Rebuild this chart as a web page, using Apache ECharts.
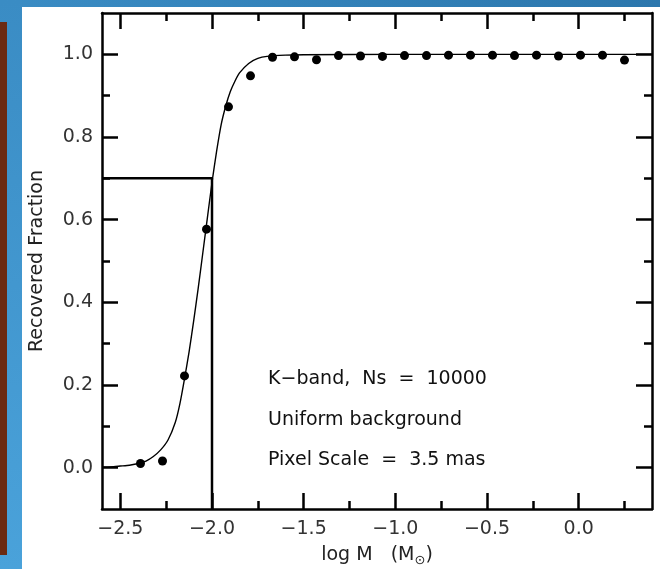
<!DOCTYPE html>
<html><head><meta charset="utf-8">
<script src="https://cdn.jsdelivr.net/npm/echarts@6/dist/echarts.min.js"></script>
<style>html,body{margin:0;padding:0;background:#fff}#c{width:660px;height:569px}</style>
</head><body><div id="c"></div>
<script>
// measured points (log M, recovered fraction)
const dotX = [-2.39,-2.27,-2.15,-2.03,-1.91,-1.79,-1.67,-1.55,-1.43,-1.31,-1.19,-1.07,-0.95,-0.83,-0.71,-0.59,-0.47,-0.35,-0.23,-0.11,0.01,0.13,0.25];
const dotY = [0.010,0.016,0.222,0.577,0.873,0.948,0.993,0.994,0.987,0.997,0.996,0.995,0.997,0.997,0.998,0.998,0.998,0.997,0.998,0.996,0.998,0.998,0.986];
// fitted curve
const curveX = [-2.6,-2.55,-2.5,-2.45,-2.4,-2.36,-2.32,-2.28,-2.24,-2.2,-2.175,-2.15,-2.125,-2.1,-2.075,-2.05,-2.025,-2.0,-1.975,-1.95,-1.925,-1.9,-1.875,-1.85,-1.8,-1.75,-1.7,-1.6,-1.5,-1.0,0.4];
const curveY = [0.001,0.002,0.004,0.006,0.010,0.016,0.027,0.043,0.067,0.11,0.155,0.215,0.28,0.355,0.435,0.52,0.605,0.69,0.765,0.83,0.875,0.91,0.935,0.955,0.978,0.99,0.995,0.998,0.999,1.0,1.0];
// threshold guide lines
const guideX = [-2.6,-2.0,-2.0];
const guideY = [0.7,0.7,-0.1];
// axis ticks
const xMajorTicks = [-2.5,-2.0,-1.5,-1.0,-0.5,0.0];
const xMinorTicks = [-2.25,-1.75,-1.25,-0.75,-0.25,0.25];
const yMajorTicks = [0.0,0.2,0.4,0.6,0.8,1.0];
const yMinorTicks = [0.1,0.3,0.5,0.7,0.9];
const annotations = ['K\u2212band,  Ns  =  10000','Uniform background','Pixel Scale  =  3.5 mas'];

const FONT = 'DejaVu Sans';
const xMin=-2.6, xMax=0.4, yMin=-0.1, yMax=1.1;
const zip=(a,b)=>a.map((v,i)=>[v,b[i]]);
const fmtX = v => (v < -1e-9 ? '\u2212' : '') + Math.abs(v).toFixed(1);
const fmtY = v => v.toFixed(1);

function xAxisDef(pos, major, withLabel){
  return {
    type:'value', min:xMin, max:xMax, position:pos,
    axisLine:{show:major, onZero:false, lineStyle:{color:'#000', width:2.5}},
    axisTick:{show:true, inside:true, length: major?16:8, customValues: major?xMajorTicks:xMinorTicks, lineStyle:{color:'#000', width:2.5}},
    axisLabel:{show:withLabel, customValues:xMajorTicks, formatter:fmtX, fontFamily:FONT, fontSize:19, color:'#333', margin:11},
    splitLine:{show:false}
  };
}
function yAxisDef(pos, major, withLabel){
  return {
    type:'value', min:yMin, max:yMax, position:pos,
    axisLine:{show:major, onZero:false, lineStyle:{color:'#000', width:2.5}},
    axisTick:{show:true, inside:true, length: major?16:8, customValues: major?yMajorTicks:yMinorTicks, lineStyle:{color:'#000', width:2.5}},
    axisLabel:{show:withLabel, customValues:yMajorTicks, formatter:fmtY, fontFamily:FONT, fontSize:19, color:'#333', margin:9},
    splitLine:{show:false}
  };
}
const xAxes=[xAxisDef('bottom',true,true), xAxisDef('bottom',false,false), xAxisDef('top',true,false), xAxisDef('top',false,false)];
xAxes[0].name='{a|log M   (M}{s|\u2299}{a|)}';
xAxes[0].nameLocation='middle';
xAxes[0].nameGap=35;
xAxes[0].nameTextStyle={rich:{a:{fontFamily:FONT,fontSize:19,color:'#222',lineHeight:22},s:{fontFamily:FONT,fontSize:13,color:'#222',padding:[10,0,0,0],lineHeight:22}}};
const yAxes=[yAxisDef('left',true,true), yAxisDef('left',false,false), yAxisDef('right',true,false), yAxisDef('right',false,false)];
yAxes[0].name='Recovered Fraction';
yAxes[0].nameLocation='middle';
yAxes[0].nameGap=55;
yAxes[0].nameTextStyle={fontFamily:FONT,fontSize:19,color:'#222'};

const chart = echarts.init(document.getElementById('c'), null, {renderer:'canvas'});
chart.setOption({
  animation:false,
  backgroundColor:'#fff',
  grid:{left:102,right:8,top:13,bottom:60,containLabel:false,outerBoundsMode:'none'},
  xAxis:xAxes,
  yAxis:yAxes,
  graphic:[
    {type:'rect', z:-10, shape:{x:0,y:0,width:660,height:7}, style:{fill:new echarts.graphic.LinearGradient(0,0,1,0,[{offset:0,color:'#3a8cc4'},{offset:1,color:'#2c77ad'}])}},
    {type:'rect', z:-10, shape:{x:0,y:0,width:22,height:569}, style:{fill:new echarts.graphic.LinearGradient(0,0,0,1,[{offset:0,color:'#3a8cc4'},{offset:1,color:'#4aa2da'}])}},
    {type:'rect', z:-9, shape:{x:0,y:22,width:7,height:533}, style:{fill:'#6b2a12'}},
    {type:'text', z:10, left:268, top:370, style:{text:annotations[0], font:'19px "DejaVu Sans"', fill:'#111'}},
    {type:'text', z:10, left:268, top:411, style:{text:annotations[1], font:'19px "DejaVu Sans"', fill:'#111'}},
    {type:'text', z:10, left:268, top:451, style:{text:annotations[2], font:'19px "DejaVu Sans"', fill:'#111'}}
  ],
  series:[
    {type:'line', data:zip(guideX,guideY), showSymbol:false, symbol:'none', lineStyle:{color:'#000',width:2.5}, z:3},
    {type:'line', data:zip(curveX,curveY), showSymbol:false, symbol:'none', smooth:0.2, lineStyle:{color:'#000',width:1.4}, z:3},
    {type:'scatter', data:zip(dotX,dotY), symbol:'circle', symbolSize:9, itemStyle:{color:'#000',opacity:1}, z:4}
  ]
});
</script></body></html>
